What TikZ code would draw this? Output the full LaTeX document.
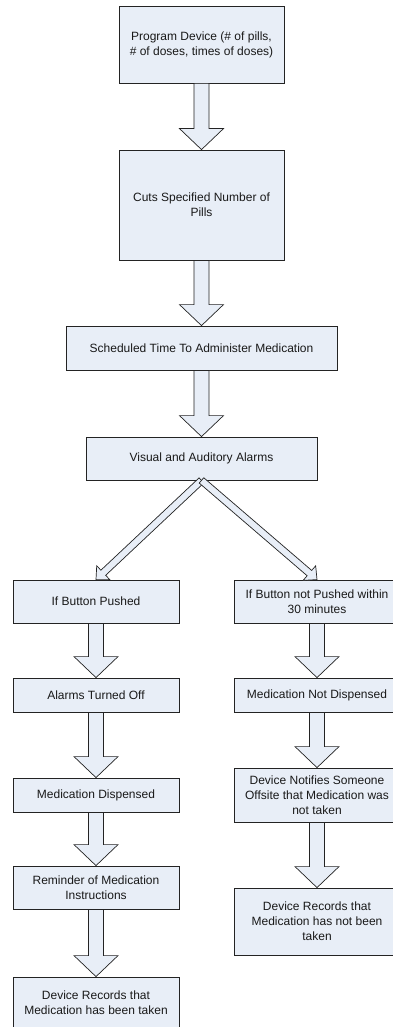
\documentclass[tikz,border=0pt]{standalone}
\usepackage{fontspec}
\setmainfont{Liberation Sans}
\usetikzlibrary{calc}
\definecolor{boxfill}{RGB}{232,238,247}
\definecolor{boxline}{RGB}{35,35,35}
\definecolor{boxtext}{RGB}{25,25,25}
% hollow block arrow: from, to, half shaft, half head, head length
\newcommand{\bigarrow}[5]{%
  \coordinate (hb) at ($(#2)!#5!(#1)$);
  \draw[fat] ($(#1)!#3!90:(#2)$) -- ($(hb)!#3!-90:(#1)$) -- ($(hb)!#4!-90:(#1)$)
    -- (#2) -- ($(hb)!#4!90:(#1)$) -- ($(hb)!#3!90:(#1)$)
    -- ($(#1)!#3!-90:(#2)$) -- cycle;}

\begin{document}
\begin{tikzpicture}[x=1pt,y=-1pt,
  box/.style={draw=boxline,fill=boxfill,line width=0.8pt,
              minimum width=166pt,minimum height=43pt,inner sep=2pt,
              font=\fontsize{12}{15}\selectfont,text=boxtext,align=center},
  fat/.style={draw=boxline,fill=boxfill,line width=0.7pt,line join=miter}]
\useasboundingbox (0,0) rectangle (393,1027);
\clip (0,0) rectangle (393,1027);
% main column
\node[box,minimum width=165pt,minimum height=77pt](prog) at (201.5,44.5)
  {Program Device (\# of pills,\\\# of doses, times of doses)};
\node[box,minimum width=165pt,minimum height=110pt](cuts) at (201.5,205)
  {Cuts Specified Number of\\Pills};
\node[box,minimum width=271pt,minimum height=44pt](sched) at (201.5,348)
  {Scheduled Time To Administer Medication};
\node[box,minimum width=231pt](alarm) at (201.5,458.5)
  {Visual and Auditory Alarms};
% button pushed
\node[box](push) at (96,601.5) {If Button Pushed};
\node[box,minimum height=34pt](off) at (96,695) {Alarms Turned Off};
\node[box,minimum height=34pt](disp) at (96,795) {Medication Dispensed};
\node[box](remind) at (96,887.5) {Reminder of Medication\\Instructions};
\node[box,minimum height=52pt](taken) at (96,1003)
  {Device Records that\\Medication has been taken};
% button not pushed
\node[box](nopush) at (317,601.5) {If Button not Pushed within\\30 minutes};
\node[box,minimum height=34pt](nodisp) at (317,695) {Medication Not Dispensed};
\node[box,minimum height=54pt](notify) at (317,795)
  {Device Notifies Someone\\Offsite that Medication was\\not taken};
\node[box,minimum height=67pt](nottaken) at (317,921.5)
  {Device Records that\\Medication has not been\\taken};
% arrows
\bigarrow{prog.south}{cuts.north}{7.5pt}{22pt}{21pt}
\bigarrow{cuts.south}{sched.north}{7.5pt}{22pt}{21pt}
\bigarrow{sched.south}{alarm.north}{7.5pt}{22pt}{21pt}
\bigarrow{alarm.south}{push.north}{3.5pt}{9.6pt}{10pt}
\bigarrow{alarm.south}{nopush.north}{3.5pt}{9.6pt}{10pt}
\bigarrow{push.south}{off.north}{7.5pt}{22pt}{21pt}
\bigarrow{off.south}{disp.north}{7.5pt}{22pt}{21pt}
\bigarrow{disp.south}{remind.north}{7.5pt}{22pt}{21pt}
\bigarrow{remind.south}{taken.north}{7.5pt}{22pt}{21pt}
\bigarrow{nopush.south}{nodisp.north}{7.5pt}{22pt}{21pt}
\bigarrow{nodisp.south}{notify.north}{7.5pt}{22pt}{21pt}
\bigarrow{notify.south}{nottaken.north}{7.5pt}{22pt}{21pt}
\end{tikzpicture}
\end{document}
